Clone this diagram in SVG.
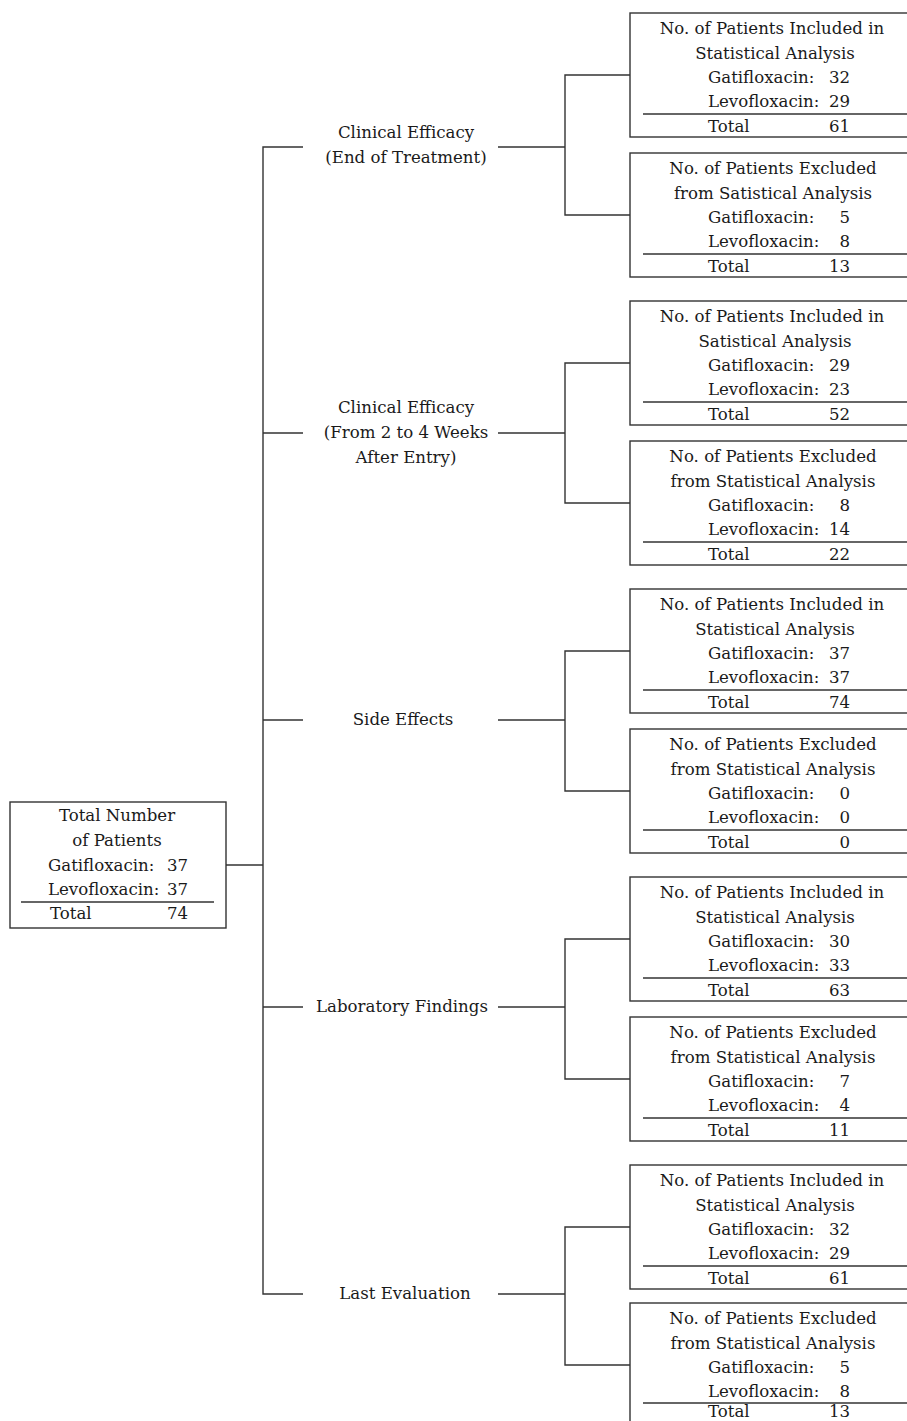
<svg xmlns="http://www.w3.org/2000/svg" width="907" height="1421" viewBox="0 0 907 1421">
<style>
.bg{fill:#fff}
.box{fill:#fff;stroke:#333;stroke-width:1.4}
.ln{stroke:#333;stroke-width:1.4;fill:none}
text{font-family:"DejaVu Serif","Liberation Serif",serif;font-size:16.6px;fill:#1a1a1a}
.c{text-anchor:middle}
.e{text-anchor:end}
</style>
<rect class="bg" x="0" y="0" width="907" height="1421"/>
<g id="connectors">
<path class="ln" d="M226,865H263"/>
<path class="ln" d="M303,147H263V1294H303"/>
<path class="ln" d="M498,147H565M630,75H565V215H630"/>
<path class="ln" d="M263,433H303M498,433H565M630,363H565V503H630"/>
<path class="ln" d="M263,720H303M498,720H565M630,651H565V791H630"/>
<path class="ln" d="M263,1007H303M498,1007H565M630,939H565V1079H630"/>
<path class="ln" d="M498,1294H565M630,1227H565V1365H630"/>
</g>
<g id="total">
<rect class="box" x="10" y="802" width="216" height="126"/>
<text class="c" x="117" y="821">Total Number</text>
<text class="c" x="117" y="846">of Patients</text>
<text x="48" y="871">Gatifloxacin:</text><text class="e" x="188" y="871">37</text>
<text x="48" y="895">Levofloxacin:</text><text class="e" x="188" y="895">37</text>
<path class="ln" d="M21,902H214"/>
<text x="50" y="919">Total</text><text class="e" x="188" y="919">74</text>
</g>
<g id="label1"><text class="c" x="406" y="138">Clinical Efficacy</text><text class="c" x="406" y="163">(End of Treatment)</text></g>
<g id="label2"><text class="c" x="406" y="413">Clinical Efficacy</text><text class="c" x="406" y="438">(From 2 to 4 Weeks</text><text class="c" x="406" y="463">After Entry)</text></g>
<g id="label3"><text class="c" x="403" y="725">Side Effects</text></g>
<g id="label4"><text class="c" x="402" y="1012">Laboratory Findings</text></g>
<g id="label5"><text class="c" x="405" y="1299">Last Evaluation</text></g>
<g id="inc1" transform="translate(0,13)">
<rect class="box" x="630" y="0" width="290" height="124"/>
<text class="c" x="772" y="21">No. of Patients Included in</text>
<text class="c" x="775" y="46">Statistical Analysis</text>
<text x="708" y="70">Gatifloxacin:</text><text class="e" x="850" y="70">32</text>
<text x="708" y="94">Levofloxacin:</text><text class="e" x="850" y="94">29</text>
<path class="ln" d="M643,101H920"/>
<text x="708" y="119">Total</text><text class="e" x="850" y="119">61</text>
</g>
<g id="exc1" transform="translate(0,153)">
<rect class="box" x="630" y="0" width="290" height="124"/>
<text class="c" x="773" y="21">No. of Patients Excluded</text>
<text class="c" x="773" y="46">from Satistical Analysis</text>
<text x="708" y="70">Gatifloxacin:</text><text class="e" x="850" y="70">5</text>
<text x="708" y="94">Levofloxacin:</text><text class="e" x="850" y="94">8</text>
<path class="ln" d="M643,101H920"/>
<text x="708" y="119">Total</text><text class="e" x="850" y="119">13</text>
</g>
<g id="inc2" transform="translate(0,301)">
<rect class="box" x="630" y="0" width="290" height="124"/>
<text class="c" x="772" y="21">No. of Patients Included in</text>
<text class="c" x="775" y="46">Satistical Analysis</text>
<text x="708" y="70">Gatifloxacin:</text><text class="e" x="850" y="70">29</text>
<text x="708" y="94">Levofloxacin:</text><text class="e" x="850" y="94">23</text>
<path class="ln" d="M643,101H920"/>
<text x="708" y="119">Total</text><text class="e" x="850" y="119">52</text>
</g>
<g id="exc2" transform="translate(0,441)">
<rect class="box" x="630" y="0" width="290" height="124"/>
<text class="c" x="773" y="21">No. of Patients Excluded</text>
<text class="c" x="773" y="46">from Statistical Analysis</text>
<text x="708" y="70">Gatifloxacin:</text><text class="e" x="850" y="70">8</text>
<text x="708" y="94">Levofloxacin:</text><text class="e" x="850" y="94">14</text>
<path class="ln" d="M643,101H920"/>
<text x="708" y="119">Total</text><text class="e" x="850" y="119">22</text>
</g>
<g id="inc3" transform="translate(0,589)">
<rect class="box" x="630" y="0" width="290" height="124"/>
<text class="c" x="772" y="21">No. of Patients Included in</text>
<text class="c" x="775" y="46">Statistical Analysis</text>
<text x="708" y="70">Gatifloxacin:</text><text class="e" x="850" y="70">37</text>
<text x="708" y="94">Levofloxacin:</text><text class="e" x="850" y="94">37</text>
<path class="ln" d="M643,101H920"/>
<text x="708" y="119">Total</text><text class="e" x="850" y="119">74</text>
</g>
<g id="exc3" transform="translate(0,729)">
<rect class="box" x="630" y="0" width="290" height="124"/>
<text class="c" x="773" y="21">No. of Patients Excluded</text>
<text class="c" x="773" y="46">from Statistical Analysis</text>
<text x="708" y="70">Gatifloxacin:</text><text class="e" x="850" y="70">0</text>
<text x="708" y="94">Levofloxacin:</text><text class="e" x="850" y="94">0</text>
<path class="ln" d="M643,101H920"/>
<text x="708" y="119">Total</text><text class="e" x="850" y="119">0</text>
</g>
<g id="inc4" transform="translate(0,877)">
<rect class="box" x="630" y="0" width="290" height="124"/>
<text class="c" x="772" y="21">No. of Patients Included in</text>
<text class="c" x="775" y="46">Statistical Analysis</text>
<text x="708" y="70">Gatifloxacin:</text><text class="e" x="850" y="70">30</text>
<text x="708" y="94">Levofloxacin:</text><text class="e" x="850" y="94">33</text>
<path class="ln" d="M643,101H920"/>
<text x="708" y="119">Total</text><text class="e" x="850" y="119">63</text>
</g>
<g id="exc4" transform="translate(0,1017)">
<rect class="box" x="630" y="0" width="290" height="124"/>
<text class="c" x="773" y="21">No. of Patients Excluded</text>
<text class="c" x="773" y="46">from Statistical Analysis</text>
<text x="708" y="70">Gatifloxacin:</text><text class="e" x="850" y="70">7</text>
<text x="708" y="94">Levofloxacin:</text><text class="e" x="850" y="94">4</text>
<path class="ln" d="M643,101H920"/>
<text x="708" y="119">Total</text><text class="e" x="850" y="119">11</text>
</g>
<g id="inc5" transform="translate(0,1165)">
<rect class="box" x="630" y="0" width="290" height="124"/>
<text class="c" x="772" y="21">No. of Patients Included in</text>
<text class="c" x="775" y="46">Statistical Analysis</text>
<text x="708" y="70">Gatifloxacin:</text><text class="e" x="850" y="70">32</text>
<text x="708" y="94">Levofloxacin:</text><text class="e" x="850" y="94">29</text>
<path class="ln" d="M643,101H920"/>
<text x="708" y="119">Total</text><text class="e" x="850" y="119">61</text>
</g>
<g id="exc5" transform="translate(0,1303)">
<rect class="box" x="630" y="0" width="290" height="124"/>
<text class="c" x="773" y="21">No. of Patients Excluded</text>
<text class="c" x="773" y="46">from Statistical Analysis</text>
<text x="708" y="70">Gatifloxacin:</text><text class="e" x="850" y="70">5</text>
<text x="708" y="94">Levofloxacin:</text><text class="e" x="850" y="94">8</text>
<path class="ln" d="M643,100H920"/>
<text x="708" y="114">Total</text><text class="e" x="850" y="114">13</text>
</g>
</svg>
